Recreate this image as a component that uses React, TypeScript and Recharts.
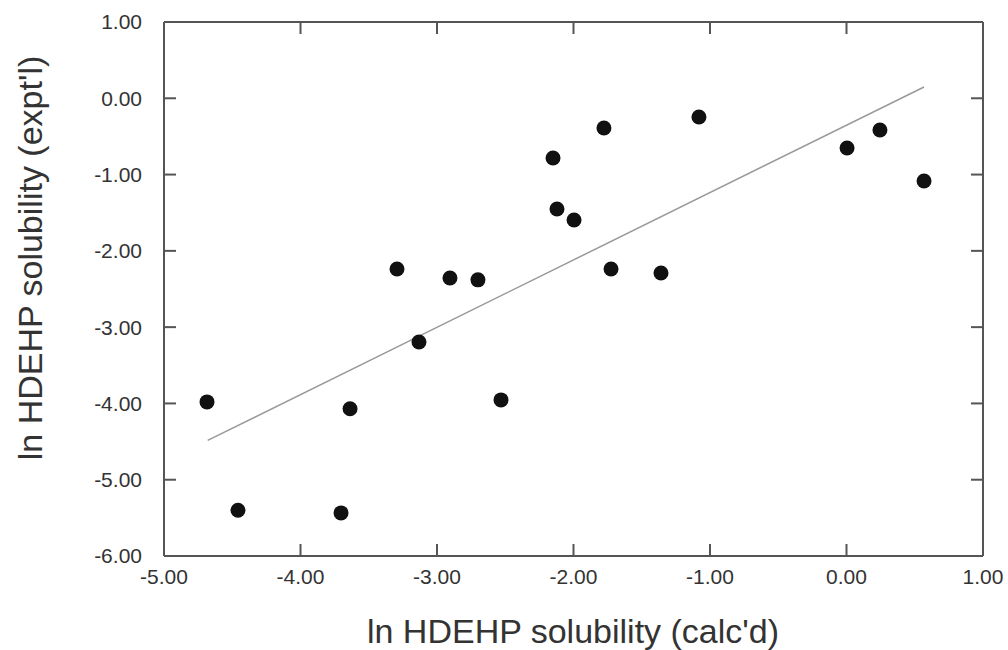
import React from 'react';
import { ScatterChart, Scatter, XAxis, YAxis, Label } from 'recharts';

const calcValues = [-4.685, -4.458, -3.703, -3.637, -3.293, -3.132, -2.905, -2.7, -2.531, -2.15, -2.121, -1.996, -1.777, -1.725, -1.359, -1.081, 0.004, 0.245, 0.568];
const exptValues = [-3.98, -5.4, -5.435, -4.07, -2.237, -3.194, -2.355, -2.38, -3.954, -0.782, -1.451, -1.595, -0.389, -2.237, -2.29, -0.245, -0.651, -0.415, -1.084];
const fitX = [-4.68, 0.568];
const fitY = [-4.485, 0.148];
const xTicks = [-5, -4, -3, -2, -1, 0, 1];
const yTicks = [-6, -5, -4, -3, -2, -1, 0, 1];

const points = calcValues.map((x, i) => ({ x, y: exptValues[i] }));
const fitLine = fitX.map((x, i) => ({ x, y: fitY[i] }));

const FONT = '"Liberation Sans", Arial, Helvetica, sans-serif';
const AXIS = '#555';
const fmt = (v: number) => v.toFixed(2);

const Dot = (p: any) => <circle cx={p.cx} cy={p.cy} r={7.5} fill="#111" />;
const NoShape = () => <g />;
const NoTick = () => <g />;

export default function App() {
  return (
    <div style={{ position: 'absolute', left: 0, top: 0, background: '#fff' }}>
      <ScatterChart width={1008} height={650} margin={{ top: 22, right: 25, left: 0, bottom: 0 }}>
        <XAxis
          xAxisId="x"
          type="number"
          dataKey="x"
          domain={[-5, 1]}
          ticks={xTicks}
          tickFormatter={fmt}
          allowDataOverflow
          height={94}
          tickLine={false}
          tickSize={0}
          tickMargin={13}
          axisLine={{ stroke: AXIS, strokeWidth: 2 }}
          tick={{ fill: '#333', fontSize: 21, fontFamily: FONT }}
        >
          <Label
            content={() => (
              <text x={573} y={643} textAnchor="middle" fill="#333" fontSize={34} fontFamily={FONT}>
                ln HDEHP solubility (calc'd)
              </text>
            )}
          />
        </XAxis>
        <XAxis
          xAxisId="xb"
          type="number"
          dataKey="x"
          orientation="bottom"
          mirror
          domain={[-5, 1]}
          ticks={xTicks}
          allowDataOverflow
          height={1}
          tick={NoTick}
          tickSize={12}
          axisLine={false}
          tickLine={{ stroke: AXIS, strokeWidth: 2 }}
        />
        <XAxis
          xAxisId="xt"
          type="number"
          dataKey="x"
          orientation="top"
          mirror
          domain={[-5, 1]}
          ticks={xTicks}
          allowDataOverflow
          height={1}
          tick={NoTick}
          tickSize={12}
          axisLine={{ stroke: AXIS, strokeWidth: 2 }}
          tickLine={{ stroke: AXIS, strokeWidth: 2 }}
        />
        <YAxis
          yAxisId="y"
          type="number"
          dataKey="y"
          domain={[-6, 1]}
          ticks={yTicks}
          tickFormatter={fmt}
          allowDataOverflow
          width={164}
          tickLine={false}
          tickSize={0}
          tickMargin={22}
          axisLine={{ stroke: AXIS, strokeWidth: 2 }}
          tick={{ fill: '#333', fontSize: 21, fontFamily: FONT }}
        >
          <Label
            content={() => (
              <text
                x={42}
                y={258}
                transform="rotate(-90 42 258)"
                textAnchor="middle"
                fill="#333"
                fontSize={34}
                fontFamily={FONT}
              >
                ln HDEHP solubility (expt'l)
              </text>
            )}
          />
        </YAxis>
        <YAxis
          yAxisId="yl"
          type="number"
          dataKey="y"
          orientation="left"
          mirror
          domain={[-6, 1]}
          ticks={yTicks}
          allowDataOverflow
          width={1}
          tick={NoTick}
          tickSize={12}
          axisLine={false}
          tickLine={{ stroke: AXIS, strokeWidth: 2 }}
        />
        <YAxis
          yAxisId="yr"
          type="number"
          dataKey="y"
          orientation="right"
          mirror
          domain={[-6, 1]}
          ticks={yTicks}
          allowDataOverflow
          width={1}
          tick={NoTick}
          tickSize={12}
          axisLine={{ stroke: AXIS, strokeWidth: 2 }}
          tickLine={{ stroke: AXIS, strokeWidth: 2 }}
        />
        <Scatter xAxisId="xb" yAxisId="yl" data={points} shape={NoShape} isAnimationActive={false} />
        <Scatter xAxisId="xt" yAxisId="yr" data={points} shape={NoShape} isAnimationActive={false} />
        <Scatter
          xAxisId="x"
          yAxisId="y"
          data={fitLine}
          line={{ stroke: '#999', strokeWidth: 1.5 }}
          shape={NoShape}
          isAnimationActive={false}
        />
        <Scatter
          xAxisId="x"
          yAxisId="y"
          data={points}
          shape={Dot}
          isAnimationActive={false}
        />
      </ScatterChart>
    </div>
  );
}
